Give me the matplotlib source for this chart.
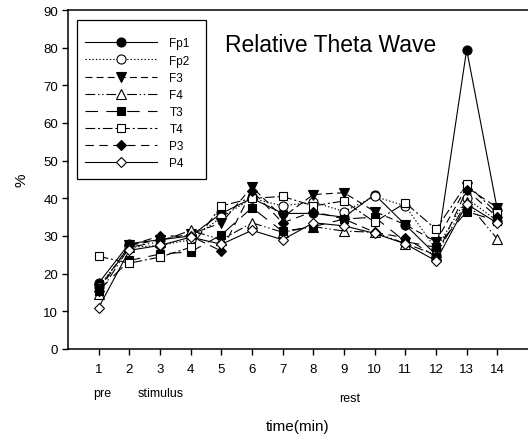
import numpy as np
import matplotlib
matplotlib.use("Agg")
import matplotlib.pyplot as plt
import matplotlib.transforms as mtransforms
from matplotlib.patches import Rectangle

plt.rcParams['font.family'] = ['Liberation Sans', 'DejaVu Sans']
plt.rcParams['lines.scale_dashes'] = False

# time points (min)
minutes = list(range(1, 15))

# relative theta power (%) per electrode
fp1 = [17.5, 28, 29, 30, 36, 40, 36, 36, 35, 41, 33, 25, 79.5, 37]
fp2 = [16.5, 27, 27.5, 29, 35, 40, 38, 39, 36.5, 40.5, 38, 26.5, 40, 34]
f3 = [16, 27.5, 29, 30.5, 33.5, 43, 35, 41, 41.5, 36.5, 33, 28.5, 43, 37.5]
f4 = [14.5, 27, 28.5, 31.5, 29, 33.5, 31, 32.5, 31.3, 31, 28, 25, 39, 29.2]
t3 = [15.5, 23.5, 25.2, 25.8, 30.3, 37.5, 31.2, 32.5, 34.5, 35, 28.5, 27, 36.5, 34]
t4 = [24.6, 22.8, 24.4, 27, 38, 40, 40.5, 38, 39.3, 33.7, 38.8, 31.8, 43.8, 36]
p3 = [15.5, 27.5, 30, 30, 26, 42, 33.5, 36.5, 34.5, 31, 29.5, 24.5, 42.2, 35]
p4 = [11, 26.2, 27.5, 29.7, 27.8, 31.5, 29, 33.5, 32.7, 30.7, 27.9, 23.4, 38.5, 33.4]

labels = ["Fp1", "Fp2", "F3", "F4", "T3", "T4", "P3", "P4"]
series = [fp1, fp2, f3, f4, t3, t4, p3, p4]

# (marker, filled, dash pattern in points or None for solid, markersize)
styles = [
    ("o", True, None, 6.5),
    ("o", False, (1, 1.5), 6.5),
    ("v", True, (5, 3), 6.5),
    ("^", False, (7, 2, 1, 2, 1, 2), 6.5),
    ("s", True, (9, 6), 5.5),
    ("s", False, (7, 2, 1.5, 2), 5.5),
    ("D", True, (6, 4), 5.5),
    ("D", False, None, 5.5),
]

fig = plt.figure(figsize=(5.28, 4.35), dpi=100)
ax = fig.add_axes([68 / 528, 85 / 435, 460 / 528, 339 / 435])

for vals, lab, (mk, filled, dash, ms) in zip(series, labels, styles):
    line, = ax.plot(minutes, vals, color="black", lw=0.8, marker=mk, ms=ms,
                    mfc="black" if filled else "white", mec="black", mew=0.8,
                    label=lab)
    if dash is not None:
        line.set_dashes(dash)

ax.set_xlim(0, 15)
ax.set_ylim(0, 90)
ax.set_xticks(minutes)
ax.set_yticks(range(0, 91, 10))
ax.tick_params(axis="x", direction="out", length=4, width=1, pad=6, labelsize=9.5)
ax.tick_params(axis="y", direction="out", length=4, width=1, pad=3, labelsize=9.5)
for side in ["left", "bottom", "top"]:
    ax.spines[side].set_linewidth(1.1)
ax.spines["right"].set_visible(False)

ax.set_xlabel("time(min)", fontsize=11)
ax.xaxis.set_label_coords(0.5, -0.207)
ax.set_ylabel("%", fontsize=11)
ax.yaxis.set_label_coords(-0.085, 0.5)

# phase annotations under the tick labels
trans = mtransforms.blended_transform_factory(ax.transData, ax.transAxes)
ax.text(1.13, -0.13, "pre", transform=trans, ha="center", va="center", fontsize=9)
ax.text(3.02, -0.13, "stimulus", transform=trans, ha="center", va="center", fontsize=9)
ax.text(9.2, -0.145, "rest", transform=trans, ha="center", va="center", fontsize=9)

fig.text(225 / 528, 1 - 45 / 435, "Relative Theta Wave", fontsize=16.5,
         ha="left", va="center")

# legend entries without frame, box drawn separately (taller padding than wide)
leg = ax.legend(loc="upper left", bbox_to_anchor=(85 / 528, 1 - 38.5 / 435),
                bbox_transform=fig.transFigure, fontsize=8.5,
                handlelength=6.1, handletextpad=1.05, labelspacing=0.43,
                borderpad=0, borderaxespad=0, frameon=False)
ax.add_patch(Rectangle((9 / 460, 170 / 339), 129 / 460, 159 / 339,
                       transform=ax.transAxes, fill=False, edgecolor="black",
                       lw=0.9, zorder=4))

fig.savefig("out.png", dpi=100)
